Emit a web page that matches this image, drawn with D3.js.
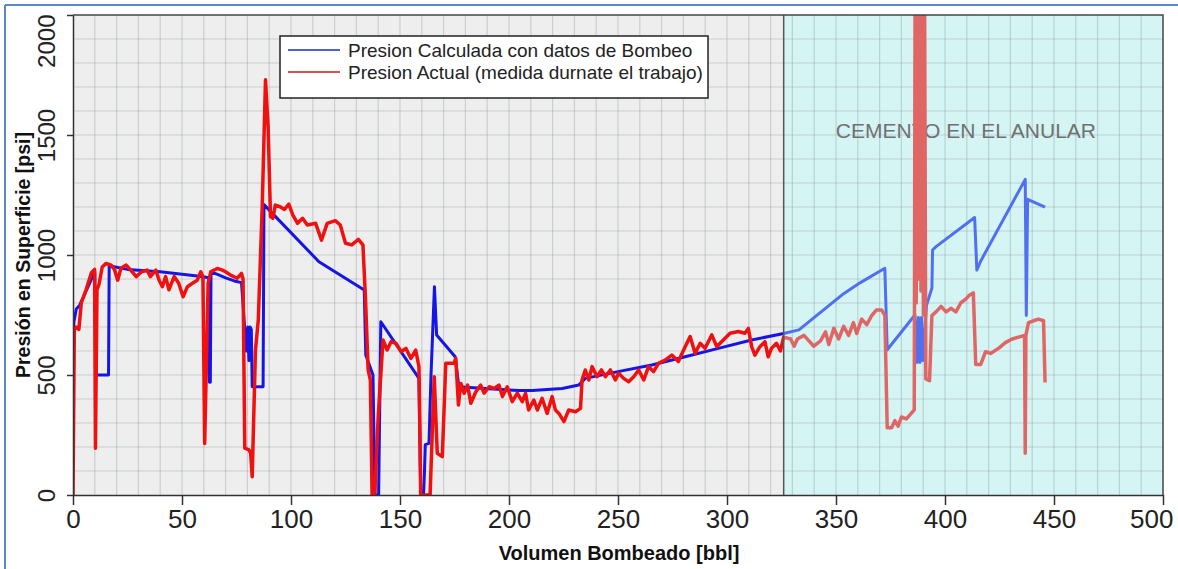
<!DOCTYPE html>
<html><head><meta charset="utf-8">
<script src="https://cdn.jsdelivr.net/npm/d3@7"></script>
<style>body{margin:0;background:#fff;}svg{display:block;font-family:"Liberation Sans",Arial,sans-serif;}</style>
</head><body>
<svg id="c" width="1178" height="569"></svg>
<script>
const xTicks = [0,50,100,150,200,250,300,350,400,450,500];
const yTicks = [0,500,1000,1500,2000];
const cementStart = 326;
const seriesNames = ["Presion Calculada con datos de Bombeo","Presion Actual (medida durnate el trabajo)"];
const blueX = [0,0.4,1.5,3,10,10.5,16.3,16.6,25,40,59,62.3,62.6,63,63.3,66,70,74,77.3,79.5,80.2,80.7,81.2,81.8,82.2,87.2,87.6,112.8,133.6,134.3,137.6,138.5,140.2,141.2,158.7,159.5,160.8,161.2,161.6,163.3,164.2,165.8,166.8,175.3,177,189,204.6,210.7,224.4,232,235,250,265.5,280.8,296,311.3,326,333,353.5,361,372.4,373.5,386.2,387.2,387.8,388.5,389.2,389.8,391.5,394,394.3,395.9,413.6,414.6,416.4,436.8,437.3,437.9,445.9];
const blueY = [500,720,775,790,930,500,500,955,940,930,910,905,470,470,930,920,905,892,885,600,700,560,700,690,451,451,1210,972,854,583,500,0,0,722,486,0,0,90,210,215,493,868,667,576,451,444,435,435,444,458,486,514,542,576,611,646,673,688,839,884,945,605,750,552,740,552,740,560,790,862,1021,1035,1156,937,975,1315,748,1232,1199];
const redX = [0,0.6,1.5,2.7,3.8,6,8.4,9.9,10.3,11,12,13.4,15.2,17.5,19,20.5,22,24.4,26.5,29,31.5,34,35.5,38,39.5,41,42.5,44,46.4,48.5,50.5,52.5,54.8,57,58.6,59.6,60.4,62,63.2,66.2,68.5,70,72.3,75.3,77.3,78,78.8,80.7,81.5,82.2,83.7,85,86.8,88.3,89.5,90.6,91.7,92.8,95,97,99,100.8,103,105.3,107.5,111.3,114,116.6,120.3,122.6,125,127.9,130.9,133,134.2,135.4,136.4,137.2,138.4,140,142.2,144.1,145.9,148.2,150.5,152.7,155,157.2,158.7,159.5,163.8,165.7,167.1,169.4,171,174.8,175.6,176.8,177.9,179.4,181,182.5,184.8,187,188.6,190.9,193.1,195.4,197,199.2,201.5,203.8,206.1,207.6,209,211.4,213,215.2,217.5,219.8,221.3,222.9,225.2,227.4,230.5,232.8,233.5,235,236.6,238.1,240.4,242.4,244.2,246.5,248.8,250.3,252.6,254.9,257.2,259.5,261.8,264,266.3,268.6,271.6,274.7,277.7,280.8,283.1,285.4,287.7,289.9,293,295.3,298.3,301.4,305.2,308.2,309.8,311.3,312.8,315.1,317.4,318.9,320.4,322.7,324.5,326,329.2,330.8,332.3,335.3,337.6,339.8,342.9,345.2,346.7,349,351.2,353.5,355.8,358,359.5,361.8,364.1,366.4,368.6,370.9,372.4,373.5,375.5,377,378.5,380,382.3,384.5,385.9,386.3,386.8,387.3,387.9,388.4,389,389.5,390.1,390.6,391.2,392.9,394,395.9,398.2,400.5,402.7,405,407.3,409.5,411,413,414.1,416.4,418.6,420.9,424.7,427.7,430.8,433.8,436.5,436.8,437.1,438.3,440.6,442.9,445.2,445.9];
const redY = [0,690,700,690,800,855,925,940,195,855,880,950,965,958,940,895,945,958,937,910,930,937,910,937,895,868,910,855,910,882,826,868,882,895,930,910,215,882,930,944,937,930,916,903,923,900,195,188,174,76,604,730,1201,1730,1535,1160,1153,1208,1201,1190,1212,1167,1132,1153,1125,1132,1062,1132,1143,1125,1049,1042,1065,1042,812,520,479,0,0,326,646,604,639,632,597,611,569,604,535,0,0,493,174,160,549,549,569,375,465,424,458,382,430,458,424,451,444,458,410,451,389,424,389,424,354,396,354,403,340,410,354,340,306,354,347,361,479,521,479,535,493,521,493,521,479,507,486,472,493,521,479,535,514,549,562,583,556,618,660,590,632,611,667,618,646,674,681,674,694,618,583,618,639,576,611,632,600,658,650,620,650,665,642,620,642,680,627,695,650,703,665,718,673,733,710,748,771,771,748,280,280,310,287,325,317,340,355,2200,800,2200,900,2200,850,2200,750,2200,484,476,748,763,786,763,778,763,801,816,831,842,544,544,597,590,612,635,650,658,665,174,665,718,726,733,726,469];

const svg = d3.select("#c");
const L=73,R=1163,T=15,B=495;
const x = d3.scaleLinear().domain([0,500]).range([L,R]);
const y = d3.scaleLinear().domain([0,2000]).range([B,T]);

// outer blue frame (left & top)
svg.append("line").attr("x1",5).attr("y1",5).attr("x2",1178).attr("y2",5).attr("stroke","#5b87c9").attr("stroke-width",2);
svg.append("line").attr("x1",5).attr("y1",5).attr("x2",5).attr("y2",569).attr("stroke","#5b87c9").attr("stroke-width",2);

const defs = svg.append("defs");
defs.append("clipPath").attr("id","cl").append("rect").attr("x",L).attr("y",T).attr("width",x(cementStart)-L).attr("height",B-T);
defs.append("clipPath").attr("id","cr").append("rect").attr("x",x(cementStart)).attr("y",T).attr("width",R-x(cementStart)).attr("height",B-T);

// backgrounds
svg.append("rect").attr("x",L).attr("y",T).attr("width",x(cementStart)-L).attr("height",B-T).attr("fill","#eeeeee");
svg.append("rect").attr("x",x(cementStart)).attr("y",T).attr("width",R-x(cementStart)).attr("height",B-T).attr("fill","#d5f4f4");

// grid
const g = svg.append("g");
g.selectAll(".gx").data(d3.range(10,500,10)).join("line")
  .attr("x1",d=>x(d)).attr("x2",d=>x(d)).attr("y1",T).attr("y2",B)
  .attr("stroke","rgb(150,160,160)").attr("stroke-opacity",0.4).attr("stroke-width",1.2);
g.selectAll(".gy").data(d3.range(100,2000,100)).join("line")
  .attr("x1",L).attr("x2",R).attr("y1",d=>y(d)).attr("y2",d=>y(d))
  .attr("stroke","rgb(150,160,160)").attr("stroke-opacity",0.4).attr("stroke-width",1.2);

// annotation text
svg.append("text").attr("x",x(409.6)).attr("y",y(1515)+7).attr("text-anchor","middle")
  .attr("font-size",21).attr("fill","#707070").text("CEMENTO EN EL ANULAR");

const lineGen = d3.line().x(d=>x(d[0])).y(d=>y(d[1]));
const blueData = blueX.map((v,i)=>[v,blueY[i]]);
const redData = redX.map((v,i)=>[v,redY[i]]);

function drawSeries(clip, blueCol, redCol){
  const gg = svg.append("g").attr("clip-path",`url(#${clip})`);
  gg.append("path").datum(blueData).attr("d",lineGen).attr("fill","none").attr("stroke",blueCol).attr("stroke-width",3).attr("stroke-linejoin","round");
  gg.append("path").datum(redData).attr("d",lineGen).attr("fill","none").attr("stroke",redCol).attr("stroke-width",3.5).attr("stroke-linejoin","round");
}
drawSeries("cl","#1515e6","#f01010");
drawSeries("cr","#5070f0","#e06666");

// separator & frame
svg.append("line").attr("x1",x(cementStart)).attr("x2",x(cementStart)).attr("y1",T).attr("y2",B).attr("stroke","#555").attr("stroke-width",1.5);
svg.append("path").attr("d",`M${L},${T}H${R}V${B}`).attr("fill","none").attr("stroke","#444").attr("stroke-width",1.5);

// axes
const xa = svg.append("g").attr("transform",`translate(0,${B})`)
  .call(d3.axisBottom(x).tickValues(xTicks).tickSize(10).tickSizeOuter(0).tickPadding(5));
xa.select(".domain").attr("stroke","#333").attr("stroke-width",1.5);
xa.selectAll(".tick line").attr("stroke","#333").attr("stroke-width",1.5);
xa.selectAll(".tick text").attr("font-size",26).attr("fill","#222").attr("font-family","Liberation Sans, Arial, sans-serif")
  .attr("text-anchor",d=> d===500 ? "end" : "middle")
  .attr("dx",d=> d===500 ? 10 : 0);

const ya = svg.append("g").attr("transform",`translate(${L},0)`)
  .call(d3.axisLeft(y).tickValues(yTicks).tickSize(6).tickSizeOuter(0).tickFormat(d3.format("d")));
ya.select(".domain").attr("stroke","#333").attr("stroke-width",1.5);
ya.selectAll(".tick line").attr("stroke","#333").attr("stroke-width",1.5);
ya.selectAll(".tick text")
  .attr("font-size",24).attr("fill","#222").attr("font-family","Liberation Sans, Arial, sans-serif")
  .attr("text-anchor",d=> d===2000 ? "end" : "middle")
  .attr("dy",0).attr("x",0)
  .attr("transform",d=> d===2000 ? `translate(-18,-1) rotate(-90)` : `translate(-18,0) rotate(-90)`);

// axis titles
svg.append("text").attr("transform",`translate(30,${(T+B)/2}) rotate(-90)`).attr("text-anchor","middle")
  .attr("font-size",19.5).attr("font-weight","bold").attr("fill","#111").text("Presión en Superficie [psi]");
svg.append("text").attr("x",619).attr("y",560).attr("text-anchor","middle")
  .attr("font-size",20).attr("font-weight","bold").attr("fill","#111").text("Volumen Bombeado [bbl]");

// legend
const lg = svg.append("g");
lg.append("rect").attr("x",280).attr("y",36).attr("width",428).attr("height",62).attr("fill","#fff").attr("stroke","#222").attr("stroke-width",1.5);
const legCols = ["#5060d0","#e05050"];
seriesNames.forEach((n,i)=>{
  lg.append("line").attr("x1",288).attr("x2",340).attr("y1",50+i*22).attr("y2",50+i*22).attr("stroke",legCols[i]).attr("stroke-width",2);
  lg.append("text").attr("x",348).attr("y",57+i*22).attr("font-size",19).attr("fill","#222").text(n);
});
</script>
</body></html>
